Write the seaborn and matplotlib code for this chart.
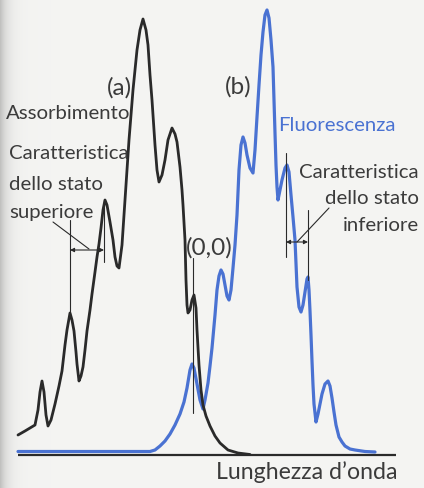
import numpy as np
import pandas as pd
import matplotlib
matplotlib.use("Agg")
import matplotlib.pyplot as plt
import seaborn as sns

# ---- data (x: wavelength position, y: intensity above the axis)
abs_x = [18, 25, 30, 35, 38, 40, 42, 44, 46, 48, 51, 55, 59, 62, 65, 67, 70, 72, 74, 76,
         77, 79, 81, 83, 85, 87, 90, 92, 95, 97, 99, 101, 103, 105, 107, 110, 113, 115, 117, 119,
         122, 125, 129, 133, 137, 140, 143, 146, 148, 150, 152, 155, 157, 159, 162, 165, 168, 172, 175, 177,
         180, 182, 183, 185, 186, 187, 188, 190, 192, 194, 196, 197, 199, 201, 203, 206, 210, 215, 220, 228,
         238, 250]
abs_y = [20, 24, 27, 30, 45, 63, 74, 63, 40, 29, 35, 51, 69, 84, 110, 125, 142, 135, 124, 103,
         91, 74, 79, 88, 105, 124, 145, 161, 183, 198, 211, 227, 245, 255, 250, 233, 215, 198, 189, 187,
         210, 255, 315, 365, 405, 425, 436, 425, 410, 380, 355, 310, 285, 273, 280, 295, 315, 327, 321, 313,
         288, 265, 250, 215, 175, 150, 142, 145, 155, 160, 147, 125, 90, 65, 50, 39, 29, 19, 12, 5,
         2, 0.5]

flu_x = [18, 150, 155, 160, 165, 170, 175, 180, 184, 187, 190, 192, 194, 197, 200, 203, 205, 208, 210, 212,
         215, 217, 219, 221, 223, 225, 227, 229, 231, 233, 235, 237, 239, 241, 243, 245, 247, 250, 253, 255,
         257, 259, 261, 263, 265, 267, 269, 271, 273, 275, 276, 277, 278, 280, 282, 285, 287, 289, 291, 293,
         295, 297, 299, 301, 303, 305, 307, 308, 309, 310, 311, 312, 313, 314, 316, 318, 320, 322, 325, 328,
         330, 332, 334, 336, 339, 342, 345, 350, 355, 365, 375]
flu_y = [3.5, 3.5, 5, 9, 14, 21, 30, 41, 53, 67, 85, 91, 87, 71, 55, 46, 55, 72, 89, 107,
         140, 165, 179, 185, 181, 170, 159, 155, 165, 187, 210, 240, 285, 310, 318, 312, 300, 287, 282, 305,
         338, 370, 400, 423, 440, 445, 437, 415, 388, 322, 290, 268, 255, 265, 275, 287, 290, 283, 260, 238,
         215, 168, 148, 143, 150, 163, 176, 178, 165, 144, 120, 94, 70, 51, 33, 41, 51, 61, 71, 74,
         69, 57, 43, 30, 18, 13, 9, 6, 5, 3.5, 3]

abs_df = pd.DataFrame({"lam": abs_x, "I": abs_y})
flu_df = pd.DataFrame({"lam": flu_x, "I": flu_y})

BLACK = "#2a2a2a"
BLUE = "#4a72d2"
TXT = "#3b3b3b"

sns.set_style("white")
plt.rcParams["font.family"] = ["Lato", "DejaVu Sans"]

W, H = 424, 488
BASE = 455  # pixel row of the axis line
fig = plt.figure(figsize=(W / 100, H / 100), dpi=100)

# page background with darker binding shadow at left
bg = fig.add_axes([0, 0, 1, 1], zorder=0)
xs = np.arange(W)
page = np.array([0.957, 0.957, 0.950])
shade = 0.20 * np.exp(-xs / 7.0)
img = np.clip(page[None, :] - shade[:, None], 0, 1)[None, :, :]
bg.imshow(img, aspect="auto", extent=[0, 1, 0, 1])
bg.axis("off")

ax = fig.add_axes([0, 0, 1, 1], zorder=1)
ax.patch.set_alpha(0)
ax.set_xlim(0, W)
ax.set_ylim(BASE - H, BASE)

def py(row):
    return BASE - row

# axis line
ax.plot([18, 396], [0, 0], color=BLACK, lw=1.6, solid_capstyle="butt", zorder=2)

sns.lineplot(data=flu_df, x="lam", y="I", sort=False, estimator=None, color=BLUE,
             lw=2.3, ax=ax, zorder=3)
sns.lineplot(data=abs_df, x="lam", y="I", sort=False, estimator=None, color=BLACK,
             lw=2.0, ax=ax, zorder=4)

# annotation lines
lk = dict(color=BLACK, lw=0.8, zorder=5)
ax.plot([70, 70], [py(220), py(313)], **lk)
ax.plot([104, 104], [py(200), py(262)], **lk)
ax.plot([53, 89], [py(222), py(249)], **lk)
ax.annotate("", xy=(70, py(250)), xytext=(104, py(250)),
            arrowprops=dict(arrowstyle="<|-|>", color=BLACK, lw=0.8, mutation_scale=6,
                            shrinkA=0, shrinkB=0), zorder=5)
ax.plot([193, 193], [py(258), py(413)], **lk)
ax.plot([286, 286], [py(153), py(257)], **lk)
ax.plot([308, 308], [py(210), py(280)], **lk)
ax.plot([329, 297], [py(208), py(242)], **lk)
ax.annotate("", xy=(286, py(242)), xytext=(308, py(242)),
            arrowprops=dict(arrowstyle="<|-|>", color=BLACK, lw=0.8, mutation_scale=6,
                            shrinkA=0, shrinkB=0), zorder=5)

renderer = fig.canvas.get_renderer()

def fit_size(s, width):
    t = ax.text(0, 0, s, fontsize=10)
    w = t.get_window_extent(renderer).width
    t.remove()
    return 10 * width / w

FS = fit_size("Caratteristica", 120)
FS_P = FS * 1.2
FS_AX = fit_size("Lunghezza d\u2019onda", 182)

def txt(x, row, s, ha="left", color=TXT, fs=FS):
    ax.text(x, py(row), s, ha=ha, va="baseline", color=color, fontsize=fs, zorder=6)

txt(132, 95, "(a)", ha="right", fs=FS_P)
txt(130, 119, "Assorbimento", ha="right")
txt(9, 159, "Caratteristica")
txt(9, 190, "dello stato")
txt(9, 218, "superiore")
txt(209, 255, "(0,0)", ha="center", fs=FS_P)
txt(238, 94, "(b)", ha="center", fs=FS_P)
txt(278, 131, "Fluorescenza", color=BLUE)
txt(419, 178, "Caratteristica", ha="right")
txt(419, 204, "dello stato", ha="right")
txt(419, 231, "inferiore", ha="right")
txt(398, 479, "Lunghezza d\u2019onda", ha="right", fs=FS_AX)

ax.axis("off")

fig.savefig("out.png", dpi=100)
